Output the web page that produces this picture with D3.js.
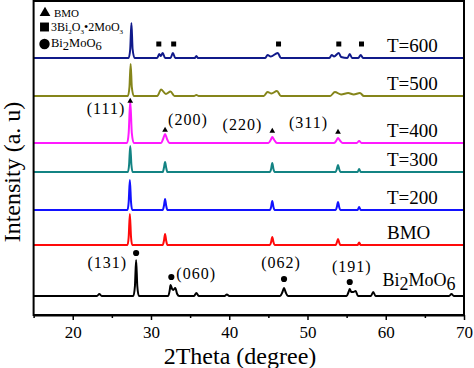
<!DOCTYPE html>
<html>
<head>
<meta charset="utf-8">
<script src="https://cdn.jsdelivr.net/npm/d3@7"></script>
<style>
  body { margin: 0; background: #fff; }
  svg { display: block; font-family: "Liberation Serif", "Times New Roman", serif; }
</style>
</head>
<body>
<svg id="chart" width="474" height="368"></svg>
<script>
'use strict';

// Data: 2Theta (deg) vs intensity above each pattern's baseline
const seriesNames   = ['Bi2MoO6', 'BMO', 'T=200', 'T=300', 'T=400', 'T=500', 'T=600'];
const seriesOffsets = [19, 70, 105, 143, 172, 219, 257];
const seriesColors  = ['#000000', '#ff0a0a', '#1212ff', '#138383', '#ff1aff', '#85851a', '#101a8a'];

const patBi2MoO6 = [[15,0],[23.1,0],[23.4,2],[23.7,0],[27.75,0],[27.95,10],[28.1,36],[28.25,10],[28.45,0],
    [32.2,0],[32.4,6],[32.5,11],[32.7,7],[32.85,6],[33.1,8],[33.35,2],[33.6,0],[35.5,0],[35.8,3],[36.1,0],
    [39.4,0],[39.7,1.5],[40.0,0],[46.5,0],[46.8,4],[47.0,8],[47.2,4],[47.5,0],[55.0,0],[55.25,4],[55.4,7],
    [55.6,4],[55.85,4],[56.15,5],[56.45,0],[58.1,0],[58.4,4],[58.7,0],[68.1,0],[68.4,2],[68.7,0],[70,0]];
const patBMO = [[15,0],[27.0,0],[27.15,8],[27.3,31],[27.45,8],[27.6,0],[31.5,0],[31.65,4],[31.8,11],[31.95,4],[32.1,0],
    [45.2,0],[45.35,3],[45.5,8],[45.65,3],[45.8,0],[53.6,0],[53.75,2.5],[53.9,6],[54.05,2.5],[54.2,0],
    [56.4,0],[56.6,2.5],[56.8,0],[70,0]];
const patT200 = [[15,0],[27.0,0],[27.15,8],[27.3,30],[27.45,8],[27.6,0],[31.5,0],[31.65,4],[31.8,11],[31.95,4],[32.1,0],
    [45.2,0],[45.35,3],[45.5,9],[45.65,3],[45.8,0],[53.6,0],[53.75,3],[53.9,8],[54.05,3],[54.2,0],
    [56.4,0],[56.6,3],[56.8,0],[70,0]];
const patT300 = [[15,0],[27.05,0],[27.2,7],[27.35,26],[27.5,7],[27.65,0],[31.5,0],[31.65,4],[31.8,10],[31.95,4],[32.1,0],
    [45.2,0],[45.35,3],[45.5,9],[45.65,3],[45.8,0],[53.6,0],[53.75,3],[53.9,7],[54.05,3],[54.2,0],
    [56.4,0],[56.6,3],[56.8,0],[70,0]];
const patT400 = [[15,0],[26.95,0],[27.15,10],[27.35,42],[27.55,10],[27.8,0],[31.3,0],[31.55,4],[31.8,9],[32.05,4],[32.35,0],
    [45.0,0],[45.3,3],[45.5,6],[45.75,3],[46.1,0],[53.4,0],[53.7,2.5],[53.9,5],[54.15,2.5],[54.5,0],
    [56.3,0],[56.6,2],[56.9,0],[70,0]];
const patT500 = [[15,0],[27.05,0],[27.25,9],[27.4,32],[27.55,9],[27.8,0],[30.8,0],[31.3,6.5],[31.9,2],[32.5,4.5],[33.0,0],
    [35.5,0],[35.8,1],[36.1,0],[44.4,0],[44.9,4],[45.4,2.5],[46.1,5],[46.6,0],[52.9,0],[53.5,4],[54.3,1.5],
    [55.2,3],[55.9,1.5],[56.7,3],[57.2,0],[70,0]];
const patT600 = [[15,0],[27.15,0],[27.35,9],[27.5,35],[27.65,9],[27.9,0],[30.8,0],[31.05,4],[31.25,2],[31.5,5],[31.8,0],
    [32.5,0],[32.8,5],[33.1,0],[35.6,0],[35.8,2],[36.0,0],[44.6,0],[44.9,3],[45.3,1.5],[46.2,5],[46.6,0],
    [52.8,0],[53.1,3],[53.4,1.5],[54.0,5],[54.3,1],[55.1,0],[55.4,4],[55.7,0],[56.5,0],[56.8,3],[57.1,0],[70,0]];
const patterns = [patBi2MoO6, patBMO, patT200, patT300, patT400, patT500, patT600];

// phase markers: [2Theta, intensity]
const bmoPeaks     = [[27.35, 214], [31.8, 185], [45.5, 184], [53.9, 183]];
const bmoHkl       = ['(111)', '(200)', '(220)', '(311)'];
const mixPeaks     = [[31.0, 271], [32.9, 271], [46.3, 271], [54.0, 271], [56.9, 271]];
const bi2Peaks     = [[28.1, 62], [32.6, 38], [47.0, 36], [55.4, 33]];
const bi2Hkl       = ['(131)', '(060)', '(062)', '(191)'];

const xMajorTicks = [20, 30, 40, 50, 60, 70];
const xMinorTicks = [15, 25, 35, 45, 55, 65];

// ---------------------------------------------------------------
const svg = d3.select('#chart');
const mLeft = 33.6, mRight = 464, mTop = 1, mBottom = 315;

const x = d3.scaleLinear().domain([15, 70]).range([mLeft, mRight]);
const y = d3.scaleLinear().domain([0, 314]).range([mBottom, mTop]);

// patterns
const line = d3.line()
    .x(d => x(d[0]))
    .y(d => y(d[1]))
    .curve(d3.curveMonotoneX);

patterns.forEach((pat, i) => {
    svg.append('path')
        .datum(pat.map(p => [p[0], p[1] + seriesOffsets[i]]))
        .attr('d', line)
        .attr('fill', 'none')
        .attr('stroke', seriesColors[i])
        .attr('stroke-width', 2)
        .attr('stroke-linejoin', 'round');
});

// frame
svg.append('rect')
    .attr('x', mLeft).attr('y', mTop)
    .attr('width', mRight - mLeft).attr('height', mBottom - mTop)
    .attr('fill', 'none').attr('stroke', '#000').attr('stroke-width', 2);

// x axis
const gMajor = svg.append('g')
    .attr('transform', `translate(0,${mBottom})`)
    .call(d3.axisBottom(x).tickValues(xMajorTicks).tickSize(5).tickPadding(6).tickSizeOuter(0));
gMajor.select('.domain').attr('stroke-width', 2);
gMajor.selectAll('.tick line').attr('stroke-width', 1.5);
gMajor.selectAll('.tick text')
    .attr('font-family', '"Liberation Serif", serif')
    .attr('font-size', 17)
    .attr('fill', '#000');

svg.append('g')
    .attr('transform', `translate(0,${mBottom})`)
    .call(d3.axisBottom(x).tickValues(xMinorTicks).tickSize(3).tickFormat('').tickSizeOuter(0))
    .call(g => g.select('.domain').remove())
    .selectAll('.tick line').attr('stroke-width', 1.5);

// axis titles
svg.append('text')
    .attr('x', 240).attr('y', 364)
    .attr('text-anchor', 'middle')
    .attr('font-size', 24)
    .text('2Theta (degree)');

svg.append('text')
    .attr('transform', 'translate(20,172) rotate(-90)')
    .attr('text-anchor', 'middle')
    .attr('font-size', 24)
    .text('Intensity (a. u)');

// markers
const sym = (type, size) => d3.symbol().type(type).size(size)();

svg.selectAll('path.tri')
    .data(bmoPeaks).enter().append('path')
    .attr('class', 'tri')
    .attr('d', sym(d3.symbolTriangle, 14))
    .attr('transform', d => `translate(${x(d[0])},${y(d[1])})`);

svg.selectAll('path.sq')
    .data(mixPeaks).enter().append('path')
    .attr('class', 'sq')
    .attr('d', sym(d3.symbolSquare, 25))
    .attr('transform', d => `translate(${x(d[0])},${y(d[1])})`);

svg.selectAll('path.dot')
    .data(bi2Peaks).enter().append('path')
    .attr('class', 'dot')
    .attr('d', sym(d3.symbolCircle, 30))
    .attr('transform', d => `translate(${x(d[0])},${y(d[1])})`);

// hkl labels
const bmoLab = [[-5, 13, 'end'], [3, -5, 'start'], [-10, -1, 'end'], [-10, -4, 'end']];
const bi2Lab = [[-9, 15, 'end'], [5, 2, 'start'], [-3, -11, 'middle'], [2, -10, 'middle']];

function hklLabels(peaks, texts, pos) {
    svg.append('g').selectAll('text')
        .data(peaks).enter().append('text')
        .attr('x', (d, i) => x(d[0]) + pos[i][0])
        .attr('y', (d, i) => y(d[1]) + pos[i][1])
        .attr('text-anchor', (d, i) => pos[i][2])
        .attr('font-size', 16)
        .attr('letter-spacing', 1)
        .text((d, i) => texts[i]);
}
hklLabels(bmoPeaks, bmoHkl, bmoLab);
hklLabels(bi2Peaks, bi2Hkl, bi2Lab);

// series labels
seriesNames.forEach((name, i) => {
    if (name === 'Bi2MoO6') {
        const t = svg.append('text')
            .attr('x', 382.5).attr('y', y(seriesOffsets[i]) - 10)
            .attr('font-size', 18);
        t.append('tspan').text('Bi');
        t.append('tspan').attr('dy', 4).text('2');
        t.append('tspan').attr('dy', -4).text('MoO');
        t.append('tspan').attr('dy', 4).text('6');
    } else {
        svg.append('text')
            .attr('x', 387).attr('y', y(seriesOffsets[i]) - 6)
            .attr('font-size', 19)
            .text(name);
    }
});

// legend
const lg = svg.append('g');
lg.append('path').attr('d', sym(d3.symbolTriangle, 50)).attr('transform', 'translate(45,13)');
lg.append('text').attr('x', 54).attr('y', 16.5).attr('font-size', 11).text('BMO');

lg.append('path').attr('d', sym(d3.symbolSquare, 80)).attr('transform', 'translate(44.5,27)');
const l2 = lg.append('text').attr('x', 51).attr('y', 31).attr('font-size', 12);
l2.append('tspan').text('3Bi');
l2.append('tspan').attr('font-size', 7).attr('dy', 3).text('2');
l2.append('tspan').attr('dy', -3).text('O');
l2.append('tspan').attr('font-size', 7).attr('dy', 3).text('3');
l2.append('tspan').attr('dy', -3).text('\u20222MoO');
l2.append('tspan').attr('font-size', 7).attr('dy', 3).text('3');

lg.append('path').attr('d', sym(d3.symbolCircle, 85)).attr('transform', 'translate(44.5,44)');
const l3 = lg.append('text').attr('x', 51).attr('y', 47).attr('font-size', 12.5);
l3.append('tspan').text('Bi');
l3.append('tspan').attr('dy', 3).text('2');
l3.append('tspan').attr('dy', -3).text('MoO');
l3.append('tspan').attr('dy', 3).text('6');
</script>
</body>
</html>
